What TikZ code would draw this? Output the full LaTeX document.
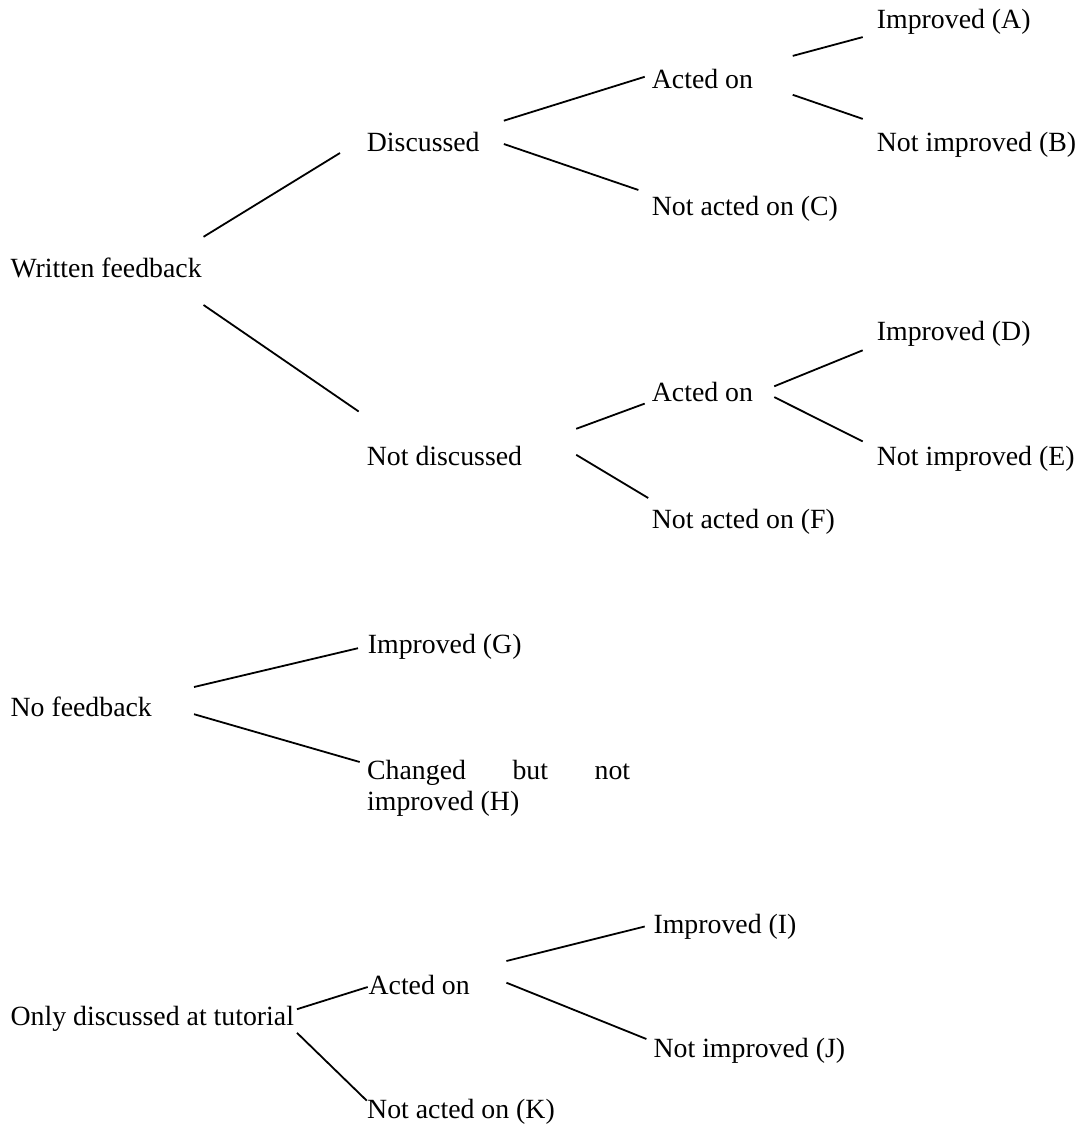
\documentclass[tikz,border=0pt]{standalone}
\usepackage{fontspec}
\setmainfont{Liberation Serif}

\begin{document}
\begin{tikzpicture}[
    x=1pt, y=-1pt,
    % --- Styles ---
    lbl/.style={
        anchor=base west,
        inner sep=0pt,
        align=left,
        font=\fontsize{27.8}{31.5}\selectfont
    },
    branch/.style={
        line width=1.8pt
    }
]
\useasboundingbox (0,0) rectangle (1087,1129);

% --- Nodes (written feedback) ---
\node[lbl] (wf) at (10.4,277.5) {Written feedback};
\node[lbl] (disc) at (366.7,151.4) {Discussed};
\node[lbl] (nd) at (366.7,465.6) {Not discussed};

\node[lbl] (act1) at (651.7,88.3) {Acted on};
\node[lbl] (nacC) at (651.7,215) {Not acted on (C)};
\node[lbl] (impA) at (876.7,28.8) {Improved (A)};
\node[lbl] (nimpB) at (876.7,151.4) {Not improved (B)};

\node[lbl] (act2) at (651.7,401.8) {Acted on};
\node[lbl] (nacF) at (651.7,528) {Not acted on (F)};
\node[lbl] (impD) at (876.7,340.5) {Improved (D)};
\node[lbl] (nimpE) at (876.7,465.6) {Not improved (E)};

% --- Nodes (no feedback) ---
\node[lbl] (nf) at (10.4,716) {No feedback};
\node[lbl] (impG) at (367.7,653.6) {Improved (G)};
\node[lbl, anchor=north west] (chH) at (367,760)
    {\makebox[263pt][s]{Changed but not}\\improved (H)};

% --- Nodes (tutorial only) ---
\node[lbl] (odt) at (10.4,1025.2) {Only discussed at tutorial};
\node[lbl] (act3) at (368.4,994.7) {Acted on};
\node[lbl] (nacK) at (367,1118.8) {Not acted on (K)};
\node[lbl] (impI) at (653.4,933.7) {Improved (I)};
\node[lbl] (nimpJ) at (653.4,1057) {Not improved (J)};

% --- Branches ---
\draw[branch] ([xshift=1.7pt,yshift=40.7pt]wf.base east) -- ([xshift=-26.7pt,yshift=-1.6pt]disc.base west);
\draw[branch] ([xshift=1.7pt,yshift=-27.5pt]wf.base east) -- ([xshift=-8pt,yshift=54.1pt]nd.base west);

\draw[branch] ([xshift=24pt,yshift=30.7pt]disc.base east) -- ([xshift=-7pt,yshift=11.5pt]act1.base west);
\draw[branch] ([xshift=24pt,yshift=7.4pt]disc.base east) -- ([xshift=-13.3pt,yshift=25pt]nacC.base west);
\draw[branch] ([xshift=39.5pt,yshift=32.4pt]act1.base east) -- ([xshift=-14pt,yshift=-8.3pt]impA.base west);
\draw[branch] ([xshift=39.5pt,yshift=-6.5pt]act1.base east) -- ([xshift=-14pt,yshift=32.5pt]nimpB.base west);

\draw[branch] ([xshift=53.9pt,yshift=36.8pt]nd.base east) -- ([xshift=-7pt,yshift=-1.8pt]act2.base west);
\draw[branch] ([xshift=53.9pt,yshift=10.8pt]nd.base east) -- ([xshift=-3.5pt,yshift=30pt]nacF.base west);
\draw[branch] ([xshift=21pt,yshift=15.5pt]act2.base east) -- ([xshift=-14pt,yshift=-9.8pt]impD.base west);
\draw[branch] ([xshift=21pt,yshift=4.7pt]act2.base east) -- ([xshift=-14pt,yshift=24.2pt]nimpE.base west);

\draw[branch] ([xshift=42pt,yshift=29pt]nf.base east) -- ([xshift=-9.7pt,yshift=5.4pt]impG.base west);
\draw[branch] ([xshift=42pt,yshift=1.8pt]nf.base east) -- ([xshift=-7.3pt,yshift=-2pt]chH.north west);

\draw[branch] ([xshift=2.8pt,yshift=16pt]odt.base east) -- ([xshift=-0.7pt,yshift=7.7pt]act3.base west);
\draw[branch] ([xshift=2.8pt,yshift=-7.6pt]odt.base east) -- ([xshift=-0.3pt,yshift=18.2pt]nacK.base west);
\draw[branch] ([xshift=36.5pt,yshift=33.7pt]act3.base east) -- ([xshift=-8.7pt,yshift=7.2pt]impI.base west);
\draw[branch] ([xshift=36.5pt,yshift=12pt]act3.base east) -- ([xshift=-7pt,yshift=18pt]nimpJ.base west);

\end{tikzpicture}
\end{document}
